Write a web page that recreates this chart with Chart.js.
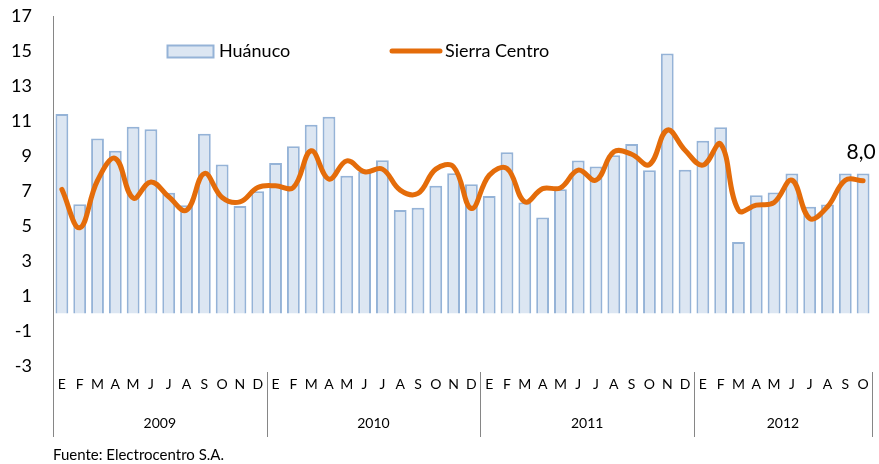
<!DOCTYPE html>
<html>
<head>
<meta charset="utf-8">
<script src="https://cdn.jsdelivr.net/npm/chart.js@4.4.1/dist/chart.umd.min.js"></script>
<style>
html,body{margin:0;padding:0;background:#fff;}
canvas{display:block;}
</style>
</head>
<body>
<canvas id="c" width="879" height="464"></canvas>
<script>
const monthLabels = ['E','F','M','A','M','J','J','A','S','O','N','D',
                     'E','F','M','A','M','J','J','A','S','O','N','D',
                     'E','F','M','A','M','J','J','A','S','O','N','D',
                     'E','F','M','A','M','J','J','A','S','O'];
const years = ['2009','2010','2011','2012'];
const yearSpans = [12,12,12,10];
const huanuco = [11.4,6.25,10.0,9.3,10.67,10.53,6.9,6.19,10.27,8.51,6.15,6.99,
                 8.6,9.56,10.78,11.24,7.87,8.1,8.76,5.92,6.04,7.3,8.02,7.39,
                 6.72,9.22,6.34,5.49,7.1,8.74,8.4,9.05,9.68,8.19,14.86,8.21,
                 9.87,10.65,4.08,6.76,6.91,8.0,6.1,6.23,8.0,8.0];
const sierraCentro = [7.09,4.9,7.6,8.86,6.6,7.52,6.67,5.9,8.0,6.63,6.38,7.2,
                      7.3,7.2,9.3,7.68,8.72,8.1,8.25,7.05,6.86,8.25,8.38,6.0,
                      7.9,8.29,6.38,7.14,7.18,8.19,7.62,9.24,9.1,8.51,10.48,9.33,
                      8.48,9.68,5.9,6.19,6.34,7.62,5.43,6.1,7.62,7.58];
const yTicks = {min:-3, max:17, step:2};
const lastLabel = '8,0';
const sourceText = 'Fuente: Electrocentro S.A.';

const FONT = 'Lato, "Open Sans", sans-serif';
const BAR_FILL = '#dce6f2';
const BAR_BORDER = '#95b3d7';
const LINE_COLOR = '#e46c0a';
const AXIS_COLOR = '#868686';

const extras = {
  id:'extras',
  afterDraw(chart){
    const ctx = chart.ctx;
    const x = chart.scales.x, y = chart.scales.y;
    const area = chart.chartArea;
    ctx.save();
    ctx.fillStyle = '#000';
    ctx.font = '14px ' + FONT;
    ctx.textAlign = 'center';
    ctx.textBaseline = 'middle';
    monthLabels.forEach((m,i)=>{
      ctx.fillText(m, x.getPixelForValue(i), 384);
    });
    const half = (x.getPixelForValue(1)-x.getPixelForValue(0))/2;
    let start = 0;
    ctx.strokeStyle = AXIS_COLOR;
    ctx.lineWidth = 1;
    const bounds = [start];
    yearSpans.forEach(s=>{start+=s; bounds.push(start);});
    bounds.forEach((b,k)=>{
      const px = Math.round(x.getPixelForValue(b) - half) + 0.5;
      ctx.beginPath();
      ctx.moveTo(px, k===0 ? area.bottom : 372);
      ctx.lineTo(px, 437);
      ctx.stroke();
    });
    ctx.font = '14px ' + FONT;
    years.forEach((yr,k)=>{
      const a = x.getPixelForValue(bounds[k]) - half;
      const b = x.getPixelForValue(bounds[k+1]) - half;
      ctx.fillText(yr, (a+b)/2, 423);
    });
    ctx.textAlign = 'left';
    ctx.font = '15px ' + FONT;
    ctx.fillText(sourceText, 53, 455);
    const li = huanuco.length-1;
    ctx.textAlign = 'center';
    ctx.textBaseline = 'alphabetic';
    ctx.font = '21px ' + FONT;
    ctx.fillText(lastLabel, x.getPixelForValue(li)-2, y.getPixelForValue(huanuco[li]) - 15);
    ctx.fillStyle = BAR_FILL;
    ctx.strokeStyle = BAR_BORDER;
    ctx.lineWidth = 2;
    ctx.fillRect(167.5, 45.5, 46, 12);
    ctx.strokeRect(167.5, 45.5, 46, 12);
    ctx.fillStyle = '#000';
    ctx.textAlign = 'left';
    ctx.textBaseline = 'middle';
    ctx.font = '18px ' + FONT;
    ctx.fillText('Huánuco', 219, 51);
    ctx.strokeStyle = LINE_COLOR;
    ctx.lineWidth = 5;
    ctx.lineCap = 'round';
    ctx.beginPath();
    ctx.moveTo(392, 51); ctx.lineTo(440, 51);
    ctx.stroke();
    ctx.fillText('Sierra Centro', 445, 51);
    ctx.restore();
  }
};

new Chart(document.getElementById('c'), {
  data:{
    labels: monthLabels.map((m,i)=>i),
    datasets:[
      {type:'line', label:'Sierra Centro', data:sierraCentro, borderColor:LINE_COLOR,
       borderWidth:5, tension:0.4, pointRadius:0, fill:false, order:0, borderCapStyle:'round'},
      {type:'bar', label:'Huánuco', data:huanuco, backgroundColor:BAR_FILL, borderColor:BAR_BORDER,
       borderWidth:2, categoryPercentage:1.0, barPercentage:0.72, order:1}
    ]
  },
  options:{
    responsive:false,
    animation:false,
    devicePixelRatio:1,
    layout:{padding:{top:16, right:7, bottom:98, left:0}},
    plugins:{legend:{display:false}, tooltip:{enabled:false}},
    scales:{
      x:{type:'category', display:false, offset:true},
      y:{min:yTicks.min, max:yTicks.max,
         afterFit(s){ s.width = 53; s.paddingTop = 0; s.paddingBottom = 0; },
         ticks:{stepSize:yTicks.step, color:'#000', font:{size:18, family:FONT}, padding:21},
         border:{display:true, color:AXIS_COLOR, width:1},
         grid:{drawTicks:false, color:(c)=> c.tick && c.tick.value===0 ? AXIS_COLOR : 'rgba(0,0,0,0)', lineWidth:1.5}
      }
    }
  },
  plugins:[extras]
});
</script>
</body>
</html>
